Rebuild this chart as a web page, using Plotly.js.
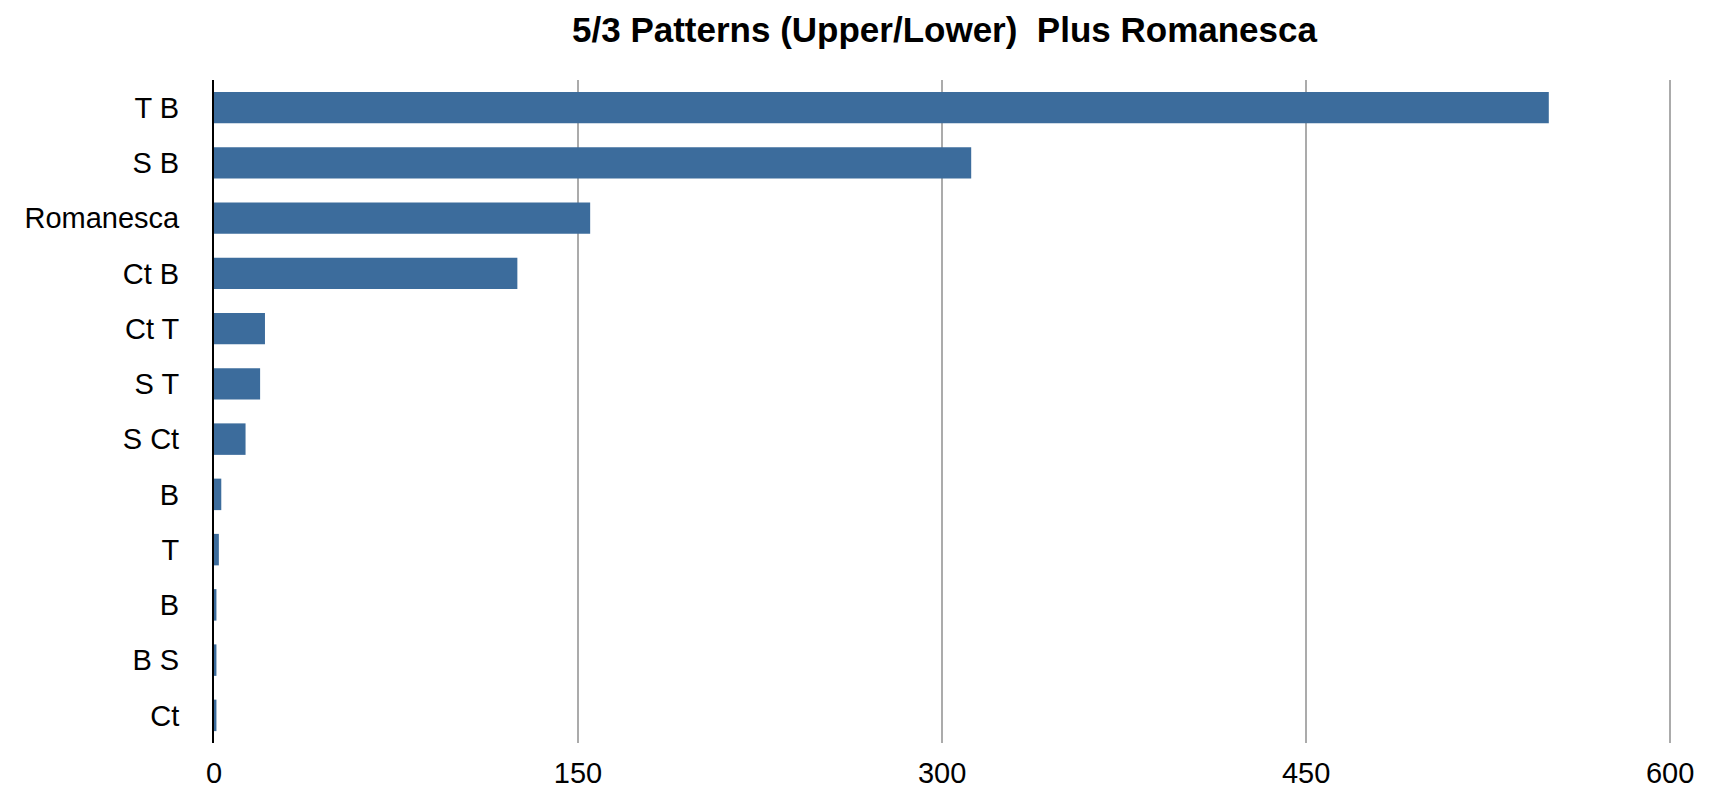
<!DOCTYPE html>
<html>
<head>
<meta charset="utf-8">
<script src="https://cdn.plot.ly/plotly-3.0.1.min.js"></script>
<style>
  html, body { margin: 0; padding: 0; background: #ffffff; }
  #chart { width: 1736px; height: 790px; }
</style>
</head>
<body>
<div id="chart"></div>
<script>
// Categories, top to bottom
const categories = ["T B", "S B", "Romanesca", "Ct B", "Ct T", "S T", "S Ct", "B", "T", "B", "B S", "Ct"];
// Counts per pattern
const counts = [550, 312, 155, 125, 21, 19, 13, 3, 2, 1, 1, 1];
// X-axis tick values
const xTicks = [0, 150, 300, 450, 600];

const positions = categories.map((_, i) => i);

const trace = {
  type: "bar",
  orientation: "h",
  x: counts,
  y: positions,
  marker: { color: "#3c6c9c", line: { width: 0 } },
  hoverinfo: "x+text",
  text: categories,
  textposition: "none"
};

const layout = {
  width: 1736,
  height: 790,
  paper_bgcolor: "#ffffff",
  plot_bgcolor: "#ffffff",
  font: { family: "Liberation Sans, Arial, Helvetica, sans-serif", color: "#000000", size: 29 },
  title: {
    text: "5/3 Patterns (Upper/Lower)\u00a0\u00a0Plus Romanesca",
    font: { family: "Liberation Sans, Arial, Helvetica, sans-serif", size: 35, color: "#000000", weight: "bold" },
    x: 0.5,
    xref: "paper",
    xanchor: "center",
    y: 0.962,
    yref: "container",
    yanchor: "middle"
  },
  margin: { l: 214, r: 61, t: 80, b: 47, pad: 0 },
  bargap: 0.43,
  showlegend: false,
  xaxis: {
    range: [0, 602],
    tickvals: xTicks,
    ticktext: xTicks.map(String),
    showgrid: true,
    gridcolor: "#ababab",
    gridwidth: 2,
    zeroline: false,
    showline: false,
    ticks: "",
    ticklabelstandoff: 10,
    tickfont: { size: 29, color: "#000000" },
    fixedrange: true
  },
  yaxis: {
    range: [categories.length - 0.5, -0.5],
    tickvals: positions,
    ticktext: categories,
    showgrid: false,
    zeroline: false,
    showline: true,
    linecolor: "#000000",
    linewidth: 2,
    ticks: "",
    ticklabelstandoff: 27,
    tickfont: { size: 29, color: "#000000" },
    fixedrange: true
  }
};

Plotly.newPlot("chart", [trace], layout, { displayModeBar: false, staticPlot: true });
</script>
</body>
</html>
